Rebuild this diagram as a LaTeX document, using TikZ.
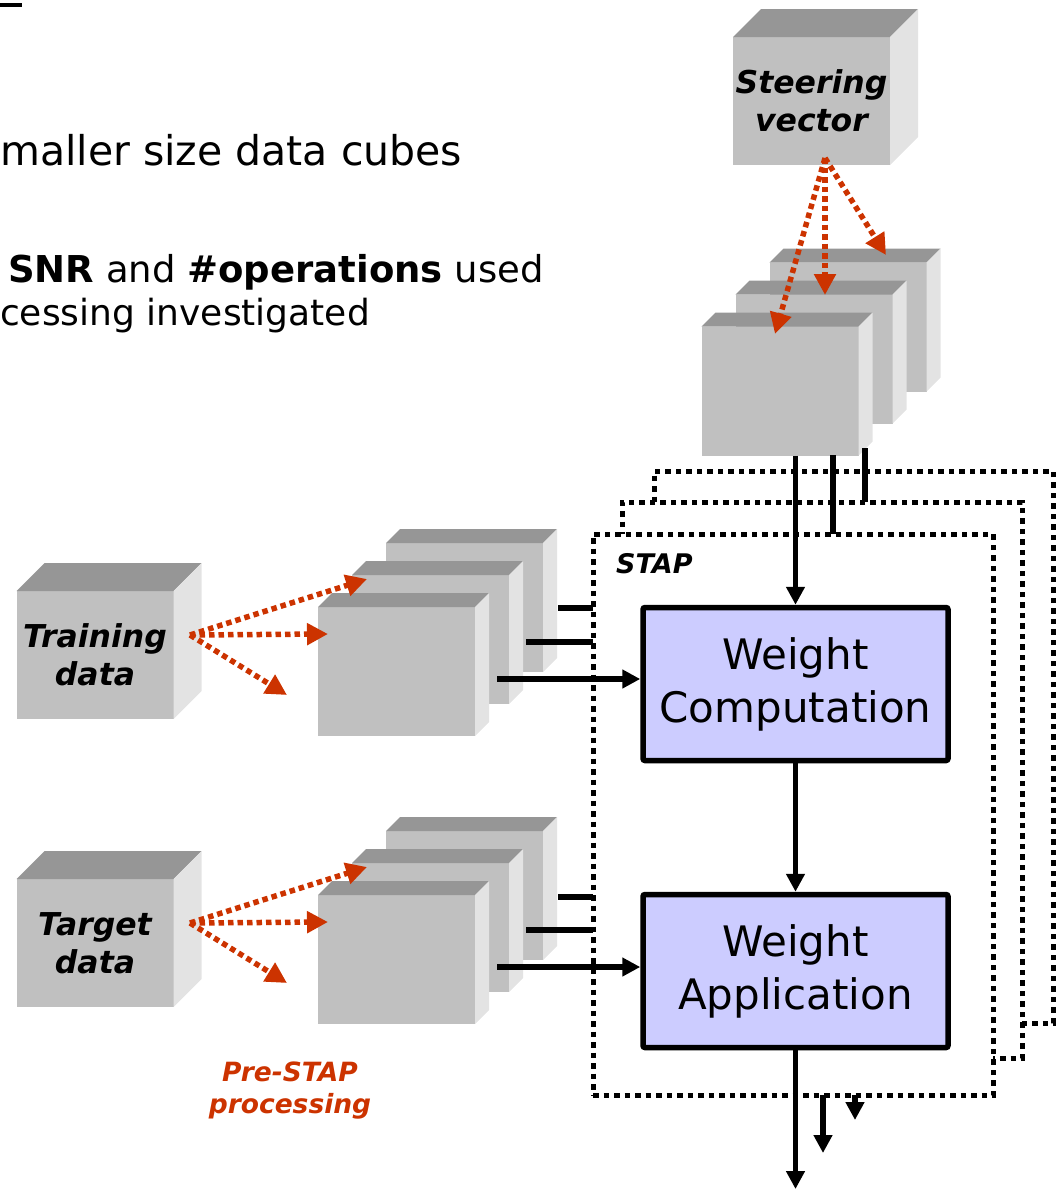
\documentclass[tikz,border=0pt]{standalone}
\usepackage{fontspec}
\setmainfont{DejaVu Sans}
\usetikzlibrary{arrows.meta}

\definecolor{cubefront}{RGB}{192,192,192}
\definecolor{cubetop}{RGB}{150,150,150}
\definecolor{cubeside}{RGB}{227,227,227}
\definecolor{prered}{RGB}{204,51,0}
\definecolor{procblue}{RGB}{204,204,255}

\tikzset{
  face/.style={fill=cubefront,inner sep=0pt,outer sep=0pt,minimum width=157pt,minimum height=128pt,
    align=center,font=\fontsize{31.5}{38}\selectfont\bfseries\itshape},
  redarrow/.style={draw=prered,line width=5.5pt,dash pattern=on 5.5pt off 4pt,
    -{Triangle[length=21pt,width=21pt]}},
  wire/.style={line width=5.5pt},
  stapbox/.style={draw,fill=white,line width=5pt,dash pattern=on 5.5pt off 5pt,inner sep=0pt,outer sep=0pt},
  procbox/.style={draw,fill=procblue,line width=5.5pt,rounded corners=2pt,minimum width=305pt,
    minimum height=153pt,align=center,font=\fontsize{42}{53}\selectfont},
}

% top and side of a cube, #2 = depth
\newcommand{\cubesides}[2]{%
  \fill[cubetop] (#1.north west) -- ([shift={(#2,-#2)}]#1.north west)
    -- ([shift={(#2,-#2)}]#1.north east) -- (#1.north east) -- cycle;
  \fill[cubeside] (#1.north east) -- ([shift={(#2,-#2)}]#1.north east)
    -- ([shift={(#2,-#2)}]#1.south east) -- (#1.south east) -- cycle;
}

\begin{document}
\begin{tikzpicture}[x=1pt,y=-1pt,>={Triangle[length=18pt,width=18pt]}]
        \useasboundingbox (0,0) rectangle (1057,1189);
        \draw[line width=4pt](0,5)--(22,5);

        % text
        \node[anchor=base west,inner sep=0pt,font=\fontsize{41}{46}\selectfont](t1)at(0,165){maller size data cubes};
        \node[anchor=base west,inner sep=0pt,font=\fontsize{37}{42}\selectfont](t2)at(8,282){\textbf{SNR} and \textbf{\#operations} used};
        \node[anchor=base west,inner sep=0pt,font=\fontsize{36}{42}\selectfont](t3)at(0,325){cessing investigated};

        % cubes
        \node[face](steer)at(811.5,101){Steering\\vector};
        \cubesides{steer}{28}
        \node[face](train)at(95,655){Training\\data};
        \cubesides{train}{28}
        \node[face](target)at(95,943){Target\\data};
        \cubesides{target}{28}

        \foreach \i in {2,1,0}{
            \node[face,minimum height=129pt](sv\i)at(780+34*\i,391-32*\i){};
            \cubesides{sv\i}{14}
            \node[face,minimum height=129pt](tr\i)at(396.5+34*\i,671.5-32*\i){};
            \cubesides{tr\i}{14}
            \node[face,minimum height=129pt](tg\i)at(396.5+34*\i,959.5-32*\i){};
            \cubesides{tg\i}{14}
        }

        % STAP boxes
        \node[stapbox,minimum width=399pt,minimum height=552pt](stap3)at(853.5,747){};
        \node[stapbox,minimum width=400pt,minimum height=556pt](stap2)at(822,780){};
        \node[stapbox,minimum width=400pt,minimum height=561pt](stap1)at(793,814.5){};
        \node[anchor=west,inner sep=0pt,font=\fontsize{27}{32}\selectfont\bfseries\itshape](staplabel)at(616,564){STAP};

        \node[procbox](wc)at(795.5,684){Weight\\Computation};
        \node[procbox](wa)at(795.5,971){Weight\\Application};

        % red arrows
        \coordinate(svsrc)at(825,158);
        \coordinate(sva)at(775,334);
        \coordinate(svb)at(825,295);
        \coordinate(svc)at(886,255);
        \draw[redarrow](svsrc)--(sva);
        \draw[redarrow](svsrc)--(svb);
        \draw[redarrow](svsrc)--(svc);

        \coordinate(trsrc)at(190,635);
        \coordinate(tra)at(367,579);
        \coordinate(trb)at(328,634);
        \coordinate(trc)at(287,695);
        \draw[redarrow](trsrc)--(tra);
        \draw[redarrow](trsrc)--(trb);
        \draw[redarrow](trsrc)--(trc);

        \coordinate(tgsrc)at(190,923);
        \coordinate(tga)at(367,867);
        \coordinate(tgb)at(328,922);
        \coordinate(tgc)at(287,983);
        \draw[redarrow](tgsrc)--(tga);
        \draw[redarrow](tgsrc)--(tgb);
        \draw[redarrow](tgsrc)--(tgc);

        % black wires
        \draw[wire,->](wc.north|-sv0.south)--(wc.north);
        \coordinate(sv1out)at(833,455);
        \coordinate(sv2out)at(865,448);
        \draw[wire](sv1out)--(sv1out|-stap1.north);
        \draw[wire](sv2out)--(sv2out|-stap2.north);

        \coordinate(tr0out)at(497,679);
        \coordinate(tr1out)at(526,642);
        \coordinate(tr2out)at(558,608);
        \draw[wire,->](tr0out)--(tr0out-|wc.west);
        \draw[wire](tr1out)--(tr1out-|stap1.west);
        \draw[wire](tr2out)--(tr2out-|stap1.west);

        \coordinate(tg0out)at(497,967);
        \coordinate(tg1out)at(526,930);
        \coordinate(tg2out)at(558,897);
        \draw[wire,->](tg0out)--(tg0out-|wa.west);
        \draw[wire](tg1out)--(tg1out-|stap1.west);
        \draw[wire](tg2out)--(tg2out-|stap1.west);

        \draw[wire,->](wc.south)--(wa.north);
        \coordinate(out0)at(795.5,1189);
        \coordinate(out1)at(823,1153);
        \coordinate(out2)at(855,1120);
        \draw[wire,->](wa.south)--(out0);
        \draw[wire,->](out1|-stap1.south)--(out1);
        \draw[wire,->](out2|-stap1.south)--(out2);

        \node[align=center,text=prered,font=\fontsize{26.5}{32}\selectfont\bfseries\itshape](prestap)at(290,1091){Pre-STAP\\processing};
    \end{tikzpicture}
\end{document}
